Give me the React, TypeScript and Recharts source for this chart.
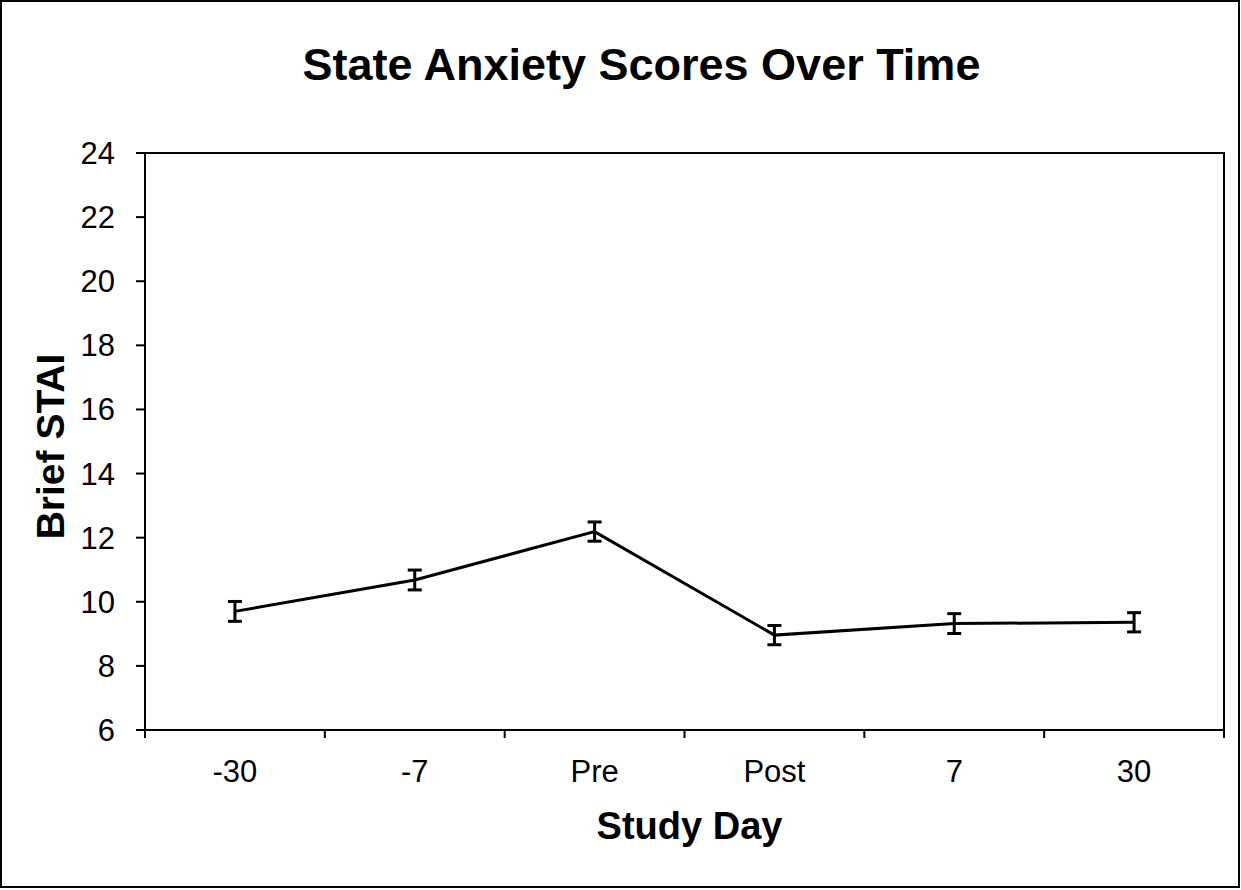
import React from 'react';
import { LineChart, Line, XAxis, YAxis, ErrorBar, ReferenceArea } from 'recharts';

// study days along the x axis
const categories = ['-30', '-7', 'Pre', 'Post', '7', '30'];
// mean brief STAI score per day
const staiMean = [9.7, 10.68, 12.19, 8.96, 9.32, 9.36];
// standard error per day
const staiErr = [0.31, 0.31, 0.3, 0.3, 0.31, 0.3];
const yTicks = [6, 8, 10, 12, 14, 16, 18, 20, 22, 24];

const FONT = '"Liberation Sans", Arial, Helvetica, sans-serif';

// each day sits in the middle of its slot, tick marks go on the slot edges
const data = categories.map((day, i) => ({ day, pos: i + 0.5, stai: staiMean[i], err: staiErr[i] }));
const xTicks: number[] = [];
for (let i = 0; i <= categories.length; i++) {
  xTicks.push(i);
  if (i < categories.length) xTicks.push(i + 0.5);
}

const DayTick = (props: any) => {
  const { x, y, payload } = props;
  const v = payload.value;
  if (Number.isInteger(v)) {
    return <line x1={x} x2={x} y1={y} y2={y + 8} stroke="#000" strokeWidth={2} />;
  }
  return (
    <text x={x} y={y + 52} textAnchor="middle" fontSize={31} fontFamily={FONT} fill="#000">
      {categories[Math.floor(v)]}
    </text>
  );
};

const App: React.FC = () => {
  return (
    <div style={{ position: 'absolute', left: 0, top: 0, width: 1241, height: 890, background: '#fff' }}>
      <div
        style={{
          position: 'absolute', left: 0, top: 0, width: 1240, height: 888,
          boxSizing: 'border-box', border: '2px solid #000',
        }}
      />
      <div
        style={{
          position: 'absolute', left: 0, top: 39, width: 1283, textAlign: 'center',
          fontFamily: FONT, fontWeight: 'bold', fontSize: 45, color: '#000',
        }}
      >
        State Anxiety Scores Over Time
      </div>
      <div style={{ position: 'absolute', left: 0, top: 0 }}>
        <LineChart width={1241} height={890} data={data} margin={{ top: 153, right: 17, left: 0, bottom: 0 }}>
          <XAxis
            dataKey="pos"
            type="number"
            domain={[0, categories.length]}
            ticks={xTicks}
            interval={0}
            height={160}
            tickLine={false}
            tickSize={0}
            tickMargin={0}
            axisLine={{ stroke: '#000', strokeWidth: 2 }}
            tick={<DayTick />}
            label={{
              content: (p: any) => {
                const vb = p.viewBox;
                return (
                  <text x={vb.x + vb.width / 2 + 5} y={vb.y + 109} textAnchor="middle"
                    fontSize={38} fontWeight="bold" fontFamily={FONT} fill="#000">
                    Study Day
                  </text>
                );
              },
            }}
          />
          <YAxis
            type="number"
            domain={[6, 24]}
            ticks={yTicks}
            interval={0}
            width={145}
            tickSize={9}
            tickMargin={21}
            axisLine={{ stroke: '#000', strokeWidth: 2 }}
            tickLine={{ stroke: '#000', strokeWidth: 2 }}
            tick={{ fontSize: 31, fontFamily: FONT, fill: '#000' }}
            label={{
              content: (p: any) => {
                const vb = p.viewBox;
                const cy = vb.y + vb.height / 2 + 5;
                return (
                  <text x={64} y={cy} transform={`rotate(-90, 64, ${cy})`} textAnchor="middle"
                    fontSize={39} fontWeight="bold" fontFamily={FONT} fill="#000">
                    Brief STAI
                  </text>
                );
              },
            }}
          />
          <ReferenceArea x1={0} x2={categories.length} y1={6} y2={24} fill="none" stroke="#000" strokeWidth={2} ifOverflow="extendDomain" />
          <Line
            type="linear"
            dataKey="stai"
            stroke="#000"
            strokeWidth={3}
            dot={false}
            activeDot={false}
            isAnimationActive={false}
          >
            <ErrorBar dataKey="err" width={7} stroke="#000" strokeWidth={3} direction="y" />
          </Line>
        </LineChart>
      </div>
    </div>
  );
};

export default App;
